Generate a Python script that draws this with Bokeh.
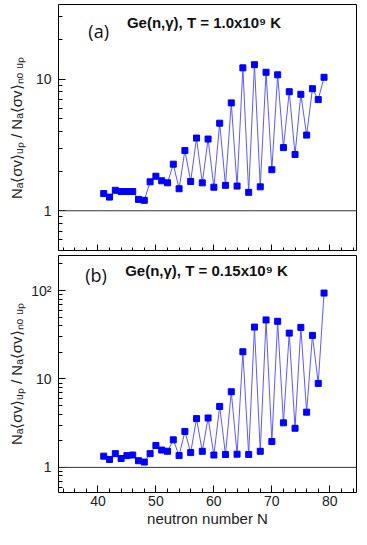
from bokeh.plotting import figure
from bokeh.models import FixedTicker, Span, Label, ColumnDataSource, Range1d
from bokeh.layouts import column
from bokeh.embed import file_html
from bokeh.resources import INLINE

# ---- data ----
neutron_N = list(range(41, 80))
ratio_T1p0 = [1.35, 1.27, 1.43, 1.40, 1.40, 1.40, 1.22, 1.20, 1.66, 1.83,
              1.69, 1.63, 2.26, 1.47, 2.87, 1.67, 3.57, 1.63, 3.51, 1.51,
              4.63, 1.56, 6.61, 1.54, 12.2, 1.38, 12.9, 1.52, 11.3, 2.05,
              10.8, 3.02, 8.04, 2.68, 7.68, 3.76, 8.47, 7.0, 10.35]
ratio_T0p15 = [1.34, 1.23, 1.43, 1.26, 1.36, 1.38, 1.19, 1.15, 1.43, 1.77,
               1.57, 1.52, 2.05, 1.36, 2.55, 1.47, 3.56, 1.52, 3.62, 1.38,
               4.89, 1.40, 7.17, 1.41, 20.3, 1.40, 38.6, 1.52, 46.5, 1.96,
               44.9, 3.19, 33.0, 2.77, 38.3, 4.21, 31.1, 8.91, 93.6]
x_major = [40, 50, 60, 70, 80]
x_minor = [34, 36, 38, 42, 44, 46, 48, 52, 54, 56, 58, 62, 64, 66, 68,
           72, 74, 76, 78, 82, 84]
y_major_top = [1, 10]
y_major_bot = [1, 10, 100]
y_minor = [0.5, 0.6, 0.7, 0.8, 0.9, 2, 3, 4, 5, 6, 7, 8, 9,
           20, 30, 40, 50, 60, 70, 80, 90, 200]
y_labels_top = {1: "1", 10: "10"}
y_labels_bot = {1: "1", 10: "10", 100: "10\u00b2"}
panel_tags = ["(a)", "(b)"]
panel_titles = ["Ge(n,\u03b3), T = 1.0x10\u2079 K", "Ge(n,\u03b3), T = 0.15x10\u2079 K"]
x_label = "neutron number N"
y_label = "N\u2090\u27e8\u03c3v\u27e9\u1d64\u209a / N\u2090\u27e8\u03c3v\u27e9\u2099\u2092 \u1d64\u209a"

FONT = "Liberation Sans"


def make_panel(values, yr, y_major, labels, tag, title, tag_pos, title_pos,
               height, border_top, bottom, ylabel_standoff):
    p = figure(width=357, height=height, y_axis_type="log",
               x_range=Range1d(33.2, 84.6), y_range=Range1d(*yr),
               output_backend="svg", toolbar_location=None,
               min_border_left=58, min_border_right=1,
               min_border_top=border_top, min_border_bottom=0)
    p.grid.visible = False
    p.outline_line_color = "black"
    p.outline_line_width = 1
    p.background_fill_color = "white"
    p.border_fill_color = "white"

    xa = p.xaxis[0]
    xa.ticker = FixedTicker(ticks=x_major, minor_ticks=x_minor)
    xa.axis_line_color = None
    xa.major_tick_in = 7
    xa.major_tick_out = 0
    xa.minor_tick_in = 4
    xa.minor_tick_out = 0
    xa.major_tick_line_color = "black"
    xa.minor_tick_line_color = "black"
    if bottom:
        xa.major_label_text_font = FONT
        xa.major_label_text_font_size = "14px"
        xa.major_label_text_color = "#222222"
        xa.major_label_standoff = 3
        xa.axis_label = x_label
        xa.axis_label_text_font = FONT
        xa.axis_label_text_font_size = "15px"
        xa.axis_label_text_font_style = "normal"
        xa.axis_label_text_color = "#222222"
        xa.axis_label_standoff = 1
    else:
        xa.major_label_overrides = {t: "" for t in x_major}
        xa.major_label_text_font_size = "1px"
        xa.major_label_standoff = 0

    ya = p.yaxis[0]
    ya.ticker = FixedTicker(ticks=y_major, minor_ticks=y_minor)
    ya.major_label_overrides = labels
    ya.axis_line_color = None
    ya.major_tick_in = 7
    ya.major_tick_out = 0
    ya.minor_tick_in = 4
    ya.minor_tick_out = 0
    ya.major_tick_line_color = "black"
    ya.minor_tick_line_color = "black"
    ya.major_label_text_font = FONT
    ya.major_label_text_font_size = "14px"
    ya.major_label_text_color = "#222222"
    ya.major_label_standoff = 7
    ya.axis_label = y_label
    ya.axis_label_text_font = FONT
    ya.axis_label_text_font_size = "15px"
    ya.axis_label_text_font_style = "normal"
    ya.axis_label_text_color = "#222222"
    ya.axis_label_standoff = ylabel_standoff

    p.add_layout(Span(location=1, dimension="width", line_color="#333333",
                      line_width=1))

    src = ColumnDataSource(dict(x=neutron_N, y=values))
    p.line("x", "y", source=src, line_color="#5a5aff", line_width=1)
    p.scatter("x", "y", source=src, marker="square", size=6,
              fill_color="#0000ff", line_color="#0000ff")

    p.add_layout(Label(x=tag_pos[0], y=tag_pos[1], text=tag,
                       text_font="Open Sans", text_font_size="18px",
                       text_baseline="middle", text_color="#111111"))
    p.add_layout(Label(x=title_pos[0], y=title_pos[1], text=title,
                       text_font=FONT, text_font_size="15px",
                       text_font_style="bold", text_baseline="middle",
                       text_color="#111111"))
    return p


p1 = make_panel(ratio_T1p0, (0.49, 37), y_major_top, y_labels_top,
                panel_tags[0], panel_titles[0], (38.35, 23.2), (45.0, 27.1),
                251, 4, False, 8)
p2 = make_panel(ratio_T0p15, (0.52, 249), y_major_bot, y_labels_bot,
                panel_tags[1], panel_titles[1], (37.8, 151), (44.7, 167),
                278, 4, True, 3)

layout = column(p1, p2, spacing=0)
open("out.html", "w").write(file_html(layout, INLINE))
